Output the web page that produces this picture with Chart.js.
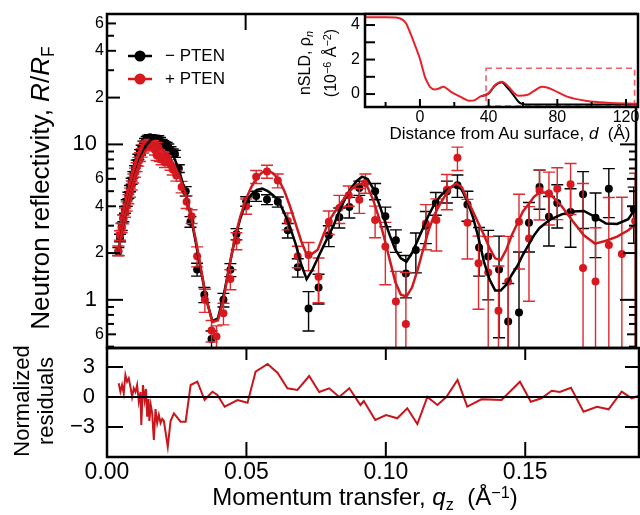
<!DOCTYPE html>
<html>
<head>
<meta charset="utf-8">
<script src="https://cdn.jsdelivr.net/npm/chart.js@4.4.1/dist/chart.umd.min.js"></script>
<style>
  body { margin: 0; background: #fff; }
  #wrap { position: relative; width: 640px; height: 515px; overflow: hidden;
          font-family: "Liberation Sans", Arial, sans-serif; color: #000; }
  canvas { position: absolute; }
  .lbl { position: absolute; white-space: nowrap; line-height: 1; transform: translate(-50%, -50%); }
  .rot { transform: translate(-50%, -50%) rotate(-90deg); }
  .lbl sub { font-size: 0.68em; vertical-align: baseline; position: relative; top: 0.3em; }
  .lbl sup { font-size: 0.68em; vertical-align: baseline; position: relative; top: -0.45em; }
</style>
</head>
<body>
<div id="wrap">
  <canvas id="main" width="640" height="352" style="left:0;top:0"></canvas>
  <canvas id="resid" width="640" height="175" style="left:0;top:340px"></canvas>
  <canvas id="inset" width="350" height="145" style="left:290px;top:0"></canvas>

  <div class="lbl rot" style="left:40px;top:188px;font-size:26px">Neutron reflectivity, <i>R</i>/<i>R</i><sub>F</sub></div>
  <div class="lbl rot" style="left:34px;top:401px;font-size:22px;line-height:24px;text-align:center">Normalized<br>residuals</div>
  <div class="lbl" style="left:365px;top:497px;font-size:24px">Momentum transfer, <i>q</i><sub>z</sub>&nbsp; (Å<sup>−1</sup>)</div>
  <div class="lbl" style="left:510px;top:133px;font-size:17px">Distance from Au surface, <i>d</i>&nbsp; (Å)</div>
  <div class="lbl rot" style="left:305px;top:63px;font-size:16px">nSLD, ρ<sub><i>n</i></sub></div>
  <div class="lbl rot" style="left:331px;top:63px;font-size:16px">(10<sup>−6</sup> Å<sup>−2</sup>)</div>
</div>
<script>
// ---- reflectivity data, - PTEN (q in 1/A, R/RF, error) ----
const qMinus = [0.0041, 0.0047, 0.0053, 0.0059, 0.0065, 0.0071, 0.0077, 0.0083, 0.0089, 0.0095,
  0.0101, 0.0107, 0.0113, 0.0119, 0.0125, 0.0131, 0.0137, 0.0143, 0.0149, 0.0155,
  0.0161, 0.0167, 0.0173, 0.0179, 0.0185, 0.0191, 0.0197, 0.0203, 0.0209, 0.0215,
  0.0221, 0.0229, 0.0237, 0.0245,
  0.0259, 0.0284, 0.0301, 0.0325, 0.0351, 0.0377, 0.0420, 0.0445, 0.0467, 0.0502,
  0.0538, 0.0577, 0.0616, 0.0652, 0.0688, 0.0727, 0.0763, 0.0800, 0.0838, 0.0874,
  0.0910, 0.0967, 0.1004, 0.1042, 0.1078, 0.1114, 0.1150, 0.1186, 0.1226, 0.1264,
  0.1300, 0.1342, 0.1375, 0.1414, 0.1447, 0.1486, 0.1522, 0.1560, 0.1594, 0.1624,
  0.1672, 0.1717, 0.1762, 0.1810, 0.1900];
const rMinus = [2.05, 2.5, 2.95, 3.35, 3.8, 4.2, 4.7, 5.2, 5.8, 6.4,
  7.0, 7.6, 8.3, 8.9, 9.5, 10.1, 10.5, 10.8, 11.0, 11.1,
  11.0, 10.8, 10.9, 10.7, 10.9, 10.6, 10.3, 10.1, 9.9, 9.85,
  9.6, 9.2, 8.9, 8.7,
  7.0, 5.0, 3.18, 1.57, 1.08, 0.56, 1.0, 1.56, 2.65, 4.3,
  4.65, 4.42, 4.27, 2.8, 1.62, 0.88, 1.2, 2.6, 3.4, 3.96,
  5.25, 5.0, 3.45, 2.42, 1.48, 2.09, 3.0, 4.2, 5.0, 5.46,
  4.1, 2.17, 1.9, 1.57, 0.725, 0.83, 3.13, 5.33, 3.42, 4.2,
  3.68, 4.78, 3.37, 5.18, 3.81];
const eMinus = [0.12, 0.14, 0.16, 0.17, 0.19, 0.2, 0.22, 0.24, 0.26, 0.28,
  0.3, 0.32, 0.34, 0.36, 0.38, 0.4, 0.42, 0.43, 0.44, 0.45,
  0.45, 0.45, 0.46, 0.46, 0.47, 0.47, 0.46, 0.46, 0.46, 0.46,
  0.45, 0.45, 0.45, 0.45,
  0.4, 0.35, 0.25, 0.15, 0.12, 0.07, 0.1, 0.15, 0.22, 0.3,
  0.35, 0.32, 0.32, 0.3, 0.22, 0.25, 0.26, 0.4, 0.5, 0.6,
  0.55, 0.6, 0.5, 0.4, 0.45, 0.6, 0.7, 0.7, 0.8, 0.9,
  0.9, 0.75, 0.9, 1.0, 0.55, 1.2, 1.1, 1.5, 1.2, 1.3,
  1.5, 1.9, 1.5, 1.8, 1.5];

// ---- reflectivity data, + PTEN ----
const qPlus = [0.0041, 0.0047, 0.0053, 0.0059, 0.0065, 0.0071, 0.0077, 0.0083, 0.0089, 0.0095,
  0.0101, 0.0107, 0.0113, 0.0119, 0.0125, 0.0131, 0.0137, 0.0143, 0.0149, 0.0155,
  0.0161, 0.0167, 0.0173, 0.0179, 0.0185, 0.0191, 0.0197, 0.0203, 0.0209, 0.0215,
  0.0221,
  0.0229, 0.0237, 0.0250, 0.0269, 0.0287, 0.0305, 0.0325, 0.0353, 0.0377, 0.0395,
  0.0420, 0.0445, 0.0467, 0.0502, 0.0538, 0.0577, 0.0616, 0.0652, 0.0688, 0.0727,
  0.0763, 0.0800, 0.0838, 0.0872, 0.0910, 0.0932, 0.0967, 0.1004, 0.1042, 0.1078,
  0.1150, 0.1188, 0.1226, 0.1264, 0.1300, 0.1340, 0.1375, 0.1412, 0.1447, 0.1486,
  0.1522, 0.1560, 0.1594, 0.1624, 0.1672, 0.1717, 0.1762, 0.1810, 0.1857, 0.1905];
const rPlus = [2.07, 2.6, 2.9, 3.3, 3.65, 4.0, 4.45, 4.9, 5.45, 6.05,
  6.6, 7.15, 7.75, 8.3, 8.85, 9.4, 9.7, 9.9, 10.0, 10.1,
  9.8, 9.9, 9.2, 8.5, 9.6, 8.4, 8.0, 8.3, 7.7, 8.3,
  7.9,
  7.4, 6.9, 6.3, 5.33, 4.27, 3.45, 1.91, 1.0, 0.636, 0.58,
  0.82, 1.36, 2.4, 4.0, 6.2, 6.7, 5.85, 3.22, 1.91, 1.94,
  1.41, 3.18, 3.9, 4.7, 4.4, 5.65, 3.26, 2.2, 0.975, 0.70,
  3.1, 3.26, 5.1, 8.2, 3.13, 1.72, 1.5, 0.85, 1.31, 3.18,
  2.48, 5.06, 4.83, 5.18, 5.54, 1.6, 1.31, 2.25, 1.97, 3.22];
const ePlus = [0.15, 0.18, 0.2, 0.22, 0.25, 0.27, 0.3, 0.33, 0.36, 0.4,
  0.44, 0.47, 0.5, 0.54, 0.57, 0.6, 0.62, 0.64, 0.65, 0.66,
  0.66, 0.66, 0.65, 0.63, 0.66, 0.63, 0.6, 0.62, 0.6, 0.62,
  0.6,
  0.58, 0.55, 0.5, 0.45, 0.4, 0.35, 0.28, 0.17, 0.1, 0.1,
  0.13, 0.2, 0.3, 0.45, 0.6, 0.65, 0.6, 0.4, 0.3, 0.4,
  0.45, 0.55, 0.8, 0.7, 0.8, 0.8, 0.75, 0.95, 0.55, 0.8,
  1.0, 1.2, 1.3, 1.4, 1.3, 0.85, 1.05, 0.8, 1.25, 1.6,
  1.5, 1.8, 1.8, 1.9, 2.0, 4.0, 1.6, 2.3, 2.6, 3.3];

// ---- model fits ----
const qFit = [0.004, 0.006, 0.008, 0.010, 0.012, 0.014, 0.016, 0.018, 0.020, 0.022,
  0.024, 0.026, 0.028, 0.030, 0.032, 0.034, 0.036, 0.038, 0.040, 0.042,
  0.044, 0.046, 0.048, 0.050, 0.052, 0.054, 0.056, 0.058, 0.060, 0.062,
  0.064, 0.066, 0.068, 0.070, 0.072, 0.074, 0.076, 0.078, 0.080, 0.082,
  0.084, 0.086, 0.088, 0.090, 0.092, 0.094, 0.096, 0.098, 0.100, 0.102,
  0.104, 0.106, 0.108, 0.110, 0.112, 0.114, 0.116, 0.118, 0.120, 0.122,
  0.124, 0.126, 0.128, 0.130, 0.132, 0.134, 0.136, 0.138, 0.140, 0.142,
  0.144, 0.146, 0.148, 0.150, 0.152, 0.154, 0.156, 0.158, 0.160,
  0.164, 0.168, 0.172, 0.176, 0.180, 0.184, 0.188, 0.191];
const fitMinus = [2.0, 3.2, 4.6, 6.3, 8.2, 9.8, 10.8, 11.0, 10.6, 9.7,
  8.4, 6.8, 5.1, 3.6, 2.35, 1.5, 0.98, 0.73, 0.76, 1.05,
  1.6, 2.4, 3.3, 4.2, 4.75, 5.1, 5.2, 5.0, 4.7, 4.3,
  3.6, 2.95, 2.3, 1.7, 1.36, 1.55, 1.85, 2.2, 2.6, 3.1,
  3.8, 4.5, 5.2, 5.8, 6.2, 6.0, 5.2, 4.2, 3.3, 2.6,
  2.1, 1.85, 1.76, 2.0, 2.4, 2.9, 3.5, 4.1, 4.6, 5.0,
  5.3, 5.45, 5.1, 4.3, 3.4, 2.5, 1.75, 1.35, 1.15, 1.15,
  1.25, 1.45, 1.65, 1.95, 2.25, 2.6, 2.9, 3.1, 3.3,
  3.55, 3.7, 3.73, 3.42, 3.1, 3.08, 3.3, 3.96];
const fitPlus = [2.0, 3.2, 4.6, 6.2, 7.9, 9.2, 9.9, 9.9, 9.3, 8.5,
  7.5, 6.3, 5.0, 3.65, 2.45, 1.55, 0.98, 0.72, 0.74, 1.0,
  1.6, 2.45, 3.4, 4.4, 5.3, 6.1, 6.6, 6.8, 6.5, 5.9,
  5.0, 4.0, 3.1, 2.4, 1.95, 1.98, 2.1, 2.6, 3.2, 3.65,
  4.1, 4.6, 5.1, 5.5, 5.6, 5.3, 4.4, 3.4, 2.5, 1.8,
  1.3, 1.08, 1.05, 1.2, 1.55, 2.1, 2.8, 3.5, 4.1, 4.7,
  5.3, 5.6, 5.3, 4.4, 3.7, 3.1, 2.6, 2.15, 1.85, 1.8,
  2.1, 2.6, 3.1, 3.7, 4.1, 4.6, 4.9, 4.9, 4.75,
  4.0, 3.2, 2.6, 2.3, 2.4, 2.55, 2.8, 3.1];

// ---- normalized residuals (+ PTEN) ----
const qRes = [0.0042, 0.0048, 0.0054, 0.0060, 0.0066, 0.0072, 0.0078, 0.0084, 0.0090, 0.0096,
  0.0102, 0.0108, 0.0114, 0.0120, 0.0123, 0.0129, 0.0135, 0.0140, 0.0144, 0.0149,
  0.0152, 0.0157, 0.0162, 0.0168, 0.0174, 0.0180, 0.0186, 0.0192, 0.0198, 0.0204,
  0.0218, 0.0228, 0.0240, 0.0264, 0.0282, 0.0300, 0.0324, 0.0350, 0.0378, 0.0396,
  0.0422, 0.0468, 0.0504, 0.0533, 0.0576, 0.0612, 0.0647, 0.0683, 0.0725, 0.0761,
  0.0797, 0.0833, 0.0869, 0.0909, 0.0921, 0.0962, 0.1001, 0.1041, 0.1077, 0.1113,
  0.1149, 0.1185, 0.1217, 0.1257, 0.1292, 0.1343, 0.1415, 0.1481, 0.1520, 0.1558,
  0.1595, 0.1624, 0.1664, 0.1709, 0.1757, 0.1799, 0.1846, 0.1882, 0.1905];
const resPlus = [1.37, 0.53, 1.2, 0.37, 2.2, 1.53, 1.87, 1.03, 0, 0.87,
  0.5, 1.2, -0.47, 0.5, -2.8, 1.2, -0.3, 0.8, -1.97, -0.2,
  -2.4, -0.8, -1.6, -4.3, -1.2, -2.6, -1.8, -2.6, -2.2, -2.4,
  -4.97, -2.4, -1.63, -2.47, -2.47, 1.2, 1.53, -0.3, 0.53, 0.2,
  -0.97, -0.3, -0.57, 2.53, 3.3, 2.4, 0.87, 0.7, 2.1, 0.5,
  0.87, 0, 0.87, -0.8, -0.4, -2.3, -1.8, -2.13, -1.13, -2.7,
  0, -0.8, 0, 1.7, -0.97, -0.23, -0.3, 1.53, -0.47, -0.13,
  0.63, 0.5, 0.93, -1.47, -0.97, -1.23, 0.53, -0.13, 0.1];

// ---- inset: nSLD profiles (d in A, 1e-6 A^-2) ----
const dPlus = [-32, -20, -14, -10, -7.8, -5.5, -3.9, -2, 0, 1.5,
  2.9, 4.5, 5.8, 8.8, 11, 13.6, 15.5, 17.5, 23.4, 29.2,
  32, 35, 39.9, 43.8, 47.7, 51.6, 55, 57.4, 62.3, 66,
  71, 74, 77.8, 85.7, 97.3, 109, 127];
const sldPlus = [4.45, 4.45, 4.44, 4.3, 4.05, 3.5, 3.1, 2.6, 2.05, 1.5,
  1.0, 0.65, 0.42, 0.27, 0.32, 0.42, 0.33, 0.17, -0.15, -0.39,
  -0.35, -0.15, 0.04, 0.52, 0.71, 0.42, 0.05, -0.1, -0.06, 0.15,
  0.42, 0.38, 0.23, -0.15, -0.4, -0.5, -0.56];
const dMinus = [36, 40, 43.8, 47.5, 51, 54.5, 57, 59, 62, 80, 127];
const sldMinus = [-0.12, 0.04, 0.5, 0.69, 0.36, -0.06, -0.4, -0.55, -0.6, -0.6, -0.6];
const boxD = [38.5, 125];
const boxSld = [-0.7, 1.5];

// ---- ticks and labels ----
const yTicks = [0.5, 0.6, 0.7, 0.8, 0.9, 1, 2, 3, 4, 5, 6, 7, 8, 9, 10, 20, 30, 40, 50, 60];
const yLabelVals = [0.6, 1, 2, 4, 6, 10, 20, 40, 60];
const yLabelText = ['6', '1', '2', '4', '6', '10', '2', '4', '6'];
const qTicks = [0.05, 0.10, 0.15];
const qLabelVals = [0, 0.05, 0.10, 0.15];
const qLabelText = ['0.00', '0.05', '0.10', '0.15'];
const resLabelVals = [3, 0, -3];
const resLabelText = ['3', '0', '\u22123'];
const dTicks = [-20, 0, 20, 40, 60, 80, 100, 120];
const dLabelVals = [0, 40, 80, 120];
const sldTicks = [0, 1, 2, 3, 4];
const sldLabelVals = [0, 2, 4];
const legendText = ['\u2212 PTEN', '+ PTEN'];

const FONT = '"Liberation Sans", Arial, sans-serif';
const RED = '#d7191f';
Chart.defaults.font.family = FONT;

function pts(xs, ys) {
  return xs.map((x, i) => ({ x: x, y: ys[i] }));
}

function seg(ctx, x1, y1, x2, y2) {
  ctx.beginPath();
  ctx.moveTo(x1, y1);
  ctx.lineTo(x2, y2);
  ctx.stroke();
}

function text(ctx, t, x, y, size, align) {
  ctx.font = size + 'px ' + FONT;
  ctx.textAlign = align;
  ctx.textBaseline = 'middle';
  ctx.fillText(t, x, y);
}

// vertical error bars, drawn under each point dataset
const errorBars = {
  id: 'errorBars',
  beforeDatasetDraw(chart, args) {
    const ds = chart.data.datasets[args.index];
    if (!ds.errors) return;
    const { ctx, chartArea: a, scales: { x, y } } = chart;
    ctx.save();
    ctx.beginPath();
    ctx.rect(a.left, a.top, a.right - a.left, a.bottom - a.top);
    ctx.clip();
    ctx.strokeStyle = ds.errorColor;
    ctx.lineWidth = 1.4;
    ds.data.forEach((p, i) => {
      const e = ds.errors[i];
      const px = x.getPixelForValue(p.x);
      const hi = y.getPixelForValue(p.y + e);
      const low = p.y - e;
      const lo = low > 0 ? y.getPixelForValue(low) : a.bottom + 10;
      ctx.beginPath();
      ctx.moveTo(px, hi); ctx.lineTo(px, lo);
      ctx.moveTo(px - 6, hi); ctx.lineTo(px + 6, hi);
      if (low > 0) { ctx.moveTo(px - 6, lo); ctx.lineTo(px + 6, lo); }
      ctx.stroke();
    });
    ctx.restore();
  }
};

const mainAxes = {
  id: 'mainAxes',
  afterDraw(chart) {
    const { ctx, chartArea: a, scales: { x, y } } = chart;
    ctx.save();
    ctx.strokeStyle = '#000';
    ctx.fillStyle = '#000';
    ctx.lineWidth = 2;
    yTicks.forEach(v => {
      const py = y.getPixelForValue(v);
      const k = yLabelVals.indexOf(v);
      const decade = Number.isInteger(Math.log10(v));
      const len = decade ? 16 : (v === 2 || v === 20) ? 13 : k >= 0 ? 9 : 7;
      seg(ctx, a.left, py, a.left + len, py);
      seg(ctx, a.right, py, a.right - len, py);
      if (k >= 0) {
        if (decade) text(ctx, yLabelText[k], a.left - 10, py, 22, 'right');
        else text(ctx, yLabelText[k], a.left - 3, py, 16, 'right');
      }
    });
    qTicks.forEach(v => {
      const px = x.getPixelForValue(v);
      seg(ctx, px, a.top, px, a.top + 16);
    });
    ctx.lineWidth = 2.5;
    ctx.strokeRect(a.left, a.top, a.right - a.left, a.bottom - a.top);

    // legend
    legendText.forEach((t, i) => {
      const ds = chart.data.datasets.find(d => d.label === t);
      const ly = 56 + i * 23;
      ctx.strokeStyle = ds.backgroundColor;
      ctx.fillStyle = ds.backgroundColor;
      ctx.lineWidth = 2.5;
      seg(ctx, 128, ly, 152, ly);
      ctx.beginPath();
      ctx.arc(140, ly, 5.5, 0, 2 * Math.PI);
      ctx.fill();
      ctx.fillStyle = '#000';
      text(ctx, t, 165, ly, 17, 'left');
    });
    ctx.restore();
  }
};

const residAxes = {
  id: 'residAxes',
  afterDraw(chart) {
    const { ctx, chartArea: a, scales: { x, y } } = chart;
    ctx.save();
    ctx.strokeStyle = '#000';
    ctx.fillStyle = '#000';
    ctx.lineWidth = 2;
    const y0 = y.getPixelForValue(0);
    seg(ctx, a.left, y0, a.right, y0);
    resLabelVals.forEach((v, i) => {
      const py = y.getPixelForValue(v);
      if (v !== 0) {
        seg(ctx, a.left, py, a.left + 16, py);
        seg(ctx, a.right, py, a.right - 14, py);
      }
      text(ctx, resLabelText[i], a.left - 12, py, 22, 'right');
    });
    qTicks.forEach(v => {
      const px = x.getPixelForValue(v);
      seg(ctx, px, a.top, px, a.top + 12);
      seg(ctx, px, a.bottom, px, a.bottom - 15);
    });
    qLabelVals.forEach((v, i) => {
      text(ctx, qLabelText[i], x.getPixelForValue(v), a.bottom + 16, 23, 'center');
    });
    ctx.lineWidth = 2.5;
    ctx.strokeRect(a.left, a.top, a.right - a.left, a.bottom - a.top);
    ctx.restore();
  }
};

const insetAxes = {
  id: 'insetAxes',
  beforeDraw(chart) {
    const { ctx, chartArea: a } = chart;
    ctx.save();
    ctx.fillStyle = '#fff';
    ctx.fillRect(a.left, a.top, a.right - a.left, a.bottom - a.top);
    ctx.restore();
  },
  beforeDatasetsDraw(chart) {
    const { ctx, scales: { x, y } } = chart;
    ctx.save();
    ctx.strokeStyle = '#ef5f69';
    ctx.lineWidth = 1.6;
    ctx.setLineDash([6, 4]);
    const x1 = x.getPixelForValue(boxD[0]), x2 = x.getPixelForValue(boxD[1]);
    const y1 = y.getPixelForValue(boxSld[1]), y2 = y.getPixelForValue(boxSld[0]);
    ctx.strokeRect(x1, y1, x2 - x1, y2 - y1);
    ctx.restore();
  },
  afterDraw(chart) {
    const { ctx, chartArea: a, scales: { x, y } } = chart;
    ctx.save();
    ctx.strokeStyle = '#000';
    ctx.fillStyle = '#000';
    ctx.lineWidth = 2;
    sldTicks.forEach(v => {
      const py = y.getPixelForValue(v);
      seg(ctx, a.left, py, a.left + 10, py);
      if (sldLabelVals.includes(v)) text(ctx, String(v), a.left - 5, py, 16, 'right');
    });
    dTicks.forEach(v => {
      const px = x.getPixelForValue(v);
      const lab = dLabelVals.includes(v);
      seg(ctx, px, a.bottom, px, a.bottom - (lab ? 8 : 5));
      if (lab) text(ctx, String(v), px, a.bottom + 11, 16, 'center');
    });
    ctx.lineWidth = 2.5;
    ctx.strokeRect(a.left, a.top, a.right - a.left, a.bottom - a.top);
    ctx.restore();
  }
};

const common = {
  responsive: false,
  maintainAspectRatio: false,
  animation: false,
  devicePixelRatio: 1,
  events: [],
  plugins: { legend: { display: false }, tooltip: { enabled: false } }
};

new Chart(document.getElementById('main'), {
  type: 'scatter',
  data: {
    datasets: [
      { label: 'fit +', data: pts(qFit, fitPlus), showLine: true, pointRadius: 0,
        borderColor: '#cf1a1f', borderWidth: 2.5, order: 0, clip: 0 },
      { label: 'fit \u2212', data: pts(qFit, fitMinus), showLine: true, pointRadius: 0,
        borderColor: '#000', borderWidth: 2.5, order: 1, clip: 0 },
      { label: '+ PTEN', data: pts(qPlus, rPlus), errors: ePlus, errorColor: '#dd2a2e',
        pointRadius: 4, pointBorderWidth: 0, backgroundColor: RED, borderColor: RED, order: 2, clip: 0 },
      { label: '\u2212 PTEN', data: pts(qMinus, rMinus), errors: eMinus, errorColor: '#000',
        pointRadius: 4, pointBorderWidth: 0, backgroundColor: '#000', borderColor: '#000', order: 3, clip: 0 }
    ]
  },
  options: {
    ...common,
    layout: { padding: { left: 107, top: 14, right: 1, bottom: 4 } },
    scales: {
      x: { type: 'linear', display: false, min: 0, max: 0.1908 },
      y: { type: 'logarithmic', display: false, min: 0.49, max: 69 }
    }
  },
  plugins: [errorBars, mainAxes]
});

new Chart(document.getElementById('resid'), {
  type: 'scatter',
  data: {
    datasets: [
      { label: 'residuals', data: pts(qRes, resPlus), showLine: true, pointRadius: 0,
        borderColor: '#c8161c', borderWidth: 2, clip: 0 }
    ]
  },
  options: {
    ...common,
    layout: { padding: { left: 107, top: 8, right: 1, bottom: 58 } },
    scales: {
      x: { type: 'linear', display: false, min: 0, max: 0.1908 },
      y: { type: 'linear', display: false, min: -6.0, max: 4.9 }
    }
  },
  plugins: [residAxes]
});

new Chart(document.getElementById('inset'), {
  type: 'scatter',
  data: {
    datasets: [
      { label: '+ PTEN', data: pts(dPlus, sldPlus), showLine: true, pointRadius: 0,
        borderColor: '#e8222a', borderWidth: 2, cubicInterpolationMode: 'monotone', order: 0, clip: 0 },
      { label: '\u2212 PTEN', data: pts(dMinus, sldMinus), showLine: true, pointRadius: 0,
        borderColor: '#000', borderWidth: 2, cubicInterpolationMode: 'monotone', order: 1, clip: 0 }
    ]
  },
  options: {
    ...common,
    layout: { padding: { left: 75, top: 14, right: 2, bottom: 38 } },
    scales: {
      x: { type: 'linear', display: false, min: -32, max: 127 },
      y: { type: 'linear', display: false, min: -0.75, max: 4.64 }
    }
  },
  plugins: [insetAxes]
});
</script>
</body>
</html>
